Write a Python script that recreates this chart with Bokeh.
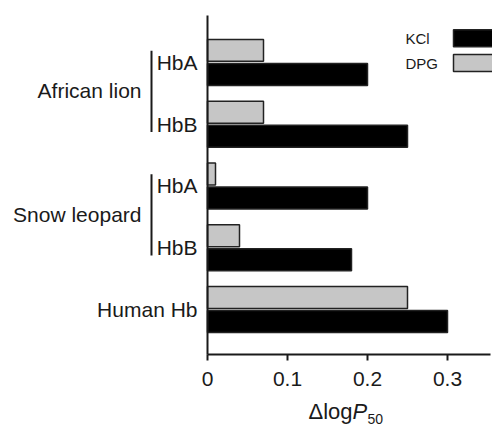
from bokeh.plotting import figure
from bokeh.models import Range1d, Label, FixedTicker, BoxAnnotation
from bokeh.embed import file_html
from bokeh.resources import INLINE

# ---- data ----
rows = ["African lion HbA", "African lion HbB", "Snow leopard HbA", "Snow leopard HbB", "Human Hb"]
row_labels = ["HbA", "HbB", "HbA", "HbB", "Human Hb"]
kcl = [0.20, 0.25, 0.20, 0.18, 0.30]
dpg = [0.07, 0.07, 0.01, 0.04, 0.25]
groups = ["African lion", "Snow leopard"]
group_rows = [[0, 1], [2, 3]]
x_ticks = [0, 0.1, 0.2, 0.3]
x_tick_labels = ["0", "0.1", "0.2", "0.3"]
series = ["KCl", "DPG"]

FONT = "Liberation Sans"
TXT = "#1a1a1a"
GREY = "#c6c6c6"
EDGE = "#222222"
FS = "21px"

n = len(rows)
pos = [n - i for i in range(n)]
off = 0.195
bh = 0.355

PXX = 1 / 800.0                 # data units per pixel in x
X0, X1 = -207 * PXX, 285 * PXX
XAX_END = 283 * PXX
YB, YT = 0.272, 5.76            # extent of the value axis area
PXY = (YT - YB) / 339.0
y_lo, y_hi = YB - 72 * PXY, YT + 15 * PXY

p = figure(width=492, height=426, output_backend="svg", toolbar_location=None,
           x_range=Range1d(X0, X1), y_range=Range1d(y_lo, y_hi), title=None,
           min_border=0)
p.outline_line_color = None
p.xgrid.visible = False
p.ygrid.visible = False

p.hbar(y=[y - off for y in pos], right=kcl, left=0, height=bh,
       fill_color="black", line_color=EDGE, line_width=1.5)
p.hbar(y=[y + off for y in pos], right=dpg, left=0, height=bh,
       fill_color=GREY, line_color=EDGE, line_width=1.5)

# x axis
xa = p.xaxis[0]
xa.fixed_location = YB
xa.bounds = (0, XAX_END)
xa.ticker = FixedTicker(ticks=x_ticks)
xa.major_label_overrides = {t: l for t, l in zip(x_ticks, x_tick_labels)}
xa.minor_tick_line_color = None
xa.major_tick_out = 6
xa.major_tick_in = 0
xa.axis_line_width = 2
xa.major_tick_line_width = 2
xa.axis_line_color = TXT
xa.major_tick_line_color = TXT
xa.major_label_text_font = FONT
xa.major_label_text_font_size = FS
xa.major_label_text_color = TXT
xa.major_label_standoff = 11

# y axis: line only
ya = p.yaxis[0]
ya.fixed_location = 0
ya.bounds = (YB, YT)
ya.ticker = FixedTicker(ticks=[])
ya.minor_tick_line_color = None
ya.major_tick_line_color = None
ya.major_label_text_font_size = "0px"
ya.axis_line_width = 2
ya.axis_line_color = TXT

# row labels
for y, lab in zip(pos, row_labels):
    p.add_layout(Label(x=-10 * PXX, y=y, text=lab, text_align="right", text_baseline="middle",
                       text_font=FONT, text_font_size=FS, text_color=TXT))

# group labels and brackets
bx0, bx1, by0, by1 = [], [], [], []
for g, idx in zip(groups, group_rows):
    ys = [pos[i] for i in idx]
    mid = sum(ys) / len(ys)
    p.add_layout(Label(x=-66 * PXX, y=mid + 0.04, text=g, text_align="right", text_baseline="middle",
                       text_font=FONT, text_font_size=FS, text_color=TXT))
    bx0.append(-56 * PXX); bx1.append(-56 * PXX)
    by0.append(max(ys) + 0.19); by1.append(min(ys) - 0.125)
p.segment(x0=bx0, y0=by0, x1=bx1, y1=by1, line_color=TXT, line_width=2)

# legend
leg_y = [5.39, 4.99]
leg_fill = ["black", GREY]
for s, yy, fc in zip(series, leg_y, leg_fill):
    p.add_layout(Label(x=198 * PXX, y=yy, text=s, text_align="left", text_baseline="middle",
                       text_font=FONT, text_font_size="15px", text_color=TXT))
    p.add_layout(BoxAnnotation(left=246 * PXX, right=X1 + 0.01, bottom=yy - 8.5 * PXY,
                               top=yy + 8.5 * PXY, fill_color=fc, fill_alpha=1.0,
                               line_color=EDGE, line_width=1.5, line_alpha=1.0))

# x axis title: Δlog P_50
title_parts = ["\u0394log", "P", "50"]
title_x = [101 * PXX, 145 * PXX, 160 * PXX]
title_y = [YB - 57 * PXY, YB - 57 * PXY, YB - 64 * PXY]
title_size = ["22px", "22px", "14px"]
title_style = ["normal", "italic", "normal"]
for t, tx, ty, ts, st in zip(title_parts, title_x, title_y, title_size, title_style):
    p.add_layout(Label(x=tx, y=ty, text=t, text_align="left", text_baseline="middle",
                       text_font=FONT, text_font_size=ts, text_font_style=st, text_color=TXT))

open("out.html", "w").write(file_html(p, INLINE))
